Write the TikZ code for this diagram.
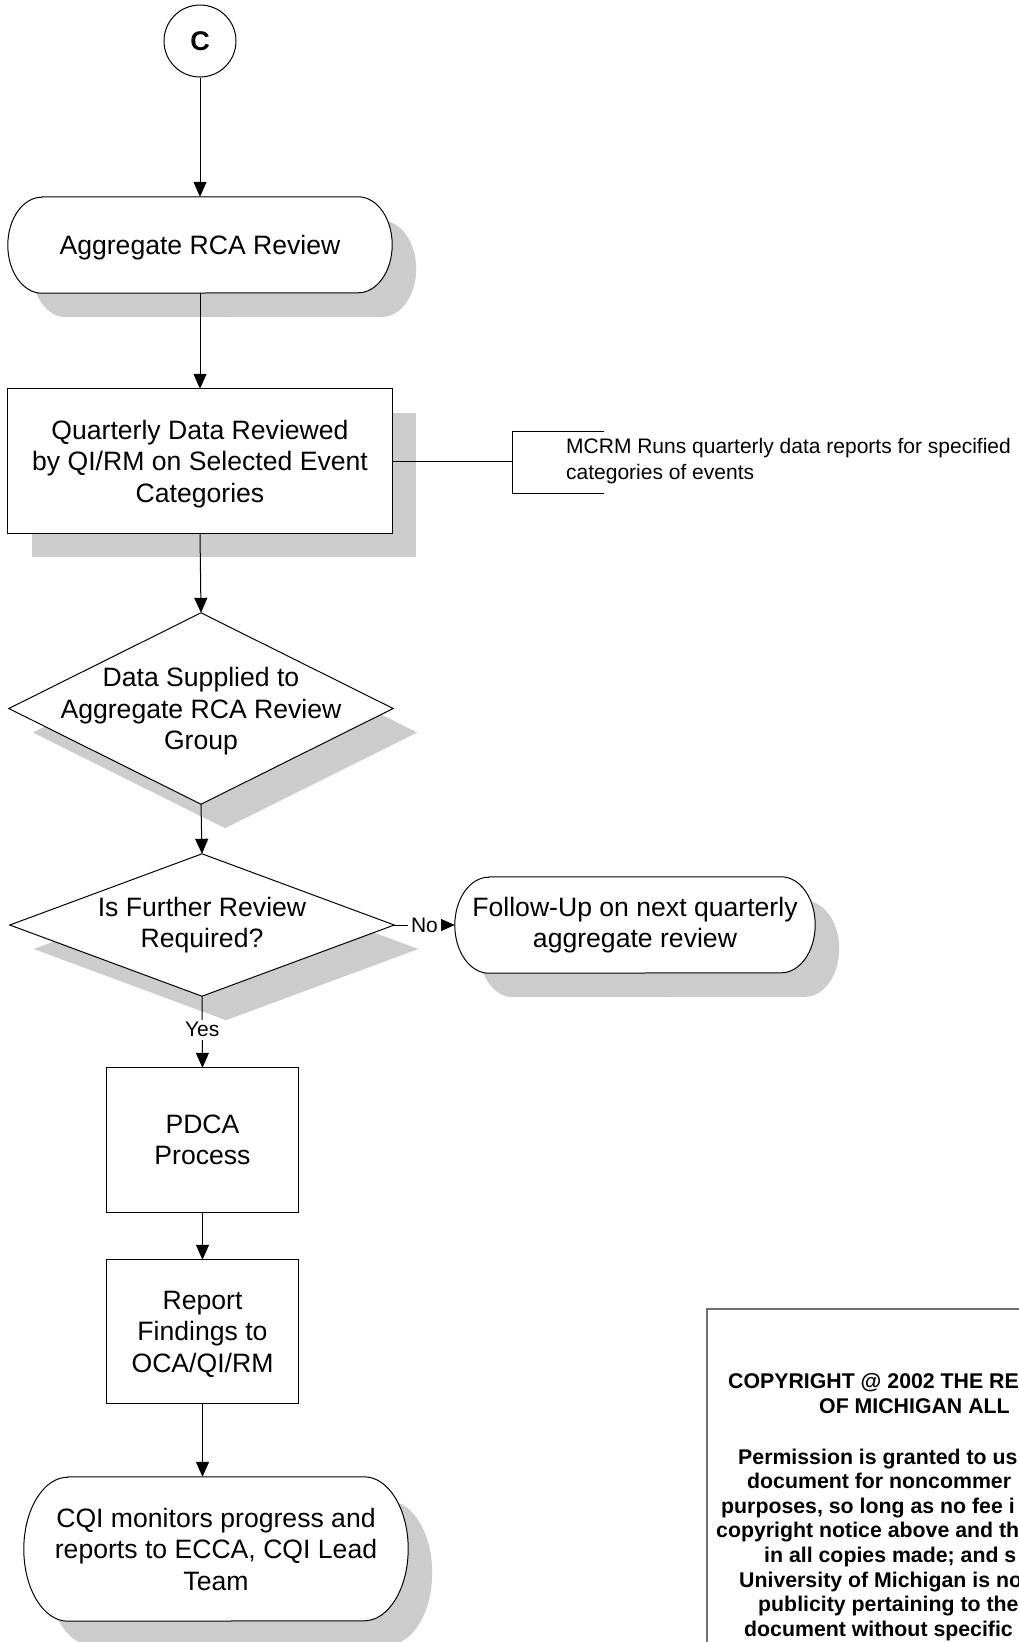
\documentclass[tikz,border=0pt]{standalone}
\usepackage{fontspec}
\setmainfont{Liberation Sans}
\usetikzlibrary{arrows.meta,calc}
\pgfdeclarelayer{shadowlayer}
\pgfdeclarelayer{shapelayer}
\pgfsetlayers{shadowlayer,shapelayer,main}
\definecolor{shadowgray}{RGB}{204,204,204}
\definecolor{bordergray}{RGB}{112,112,112}
\tikzset{
  mainfont/.style={font=\fontsize{26.6}{31.5}\selectfont},
  box/.style={rectangle, inner sep=0pt, align=center, mainfont},
  nodepth/.style={text depth=0pt},
  outline/.style={draw=black, line width=1pt},
  shapefill/.style={fill=white, draw=black, line width=1pt},
  shadowfill/.style={fill=shadowgray, transform canvas={shift={(24pt,-24pt)}}},
  conn/.style={draw=black, line width=1pt, -{Triangle[width=13pt,length=15pt]}},
  lbl/.style={fill=white, inner sep=3pt, font=\fontsize{21}{25}\selectfont},
  cpy/.style={anchor=base west, inner sep=0pt, font=\bfseries\fontsize{21.3}{25}\selectfont},
}
\newcommand\termshape[4]{%
  \path[#1] ([xshift=#3pt]#2.north west) -- ([xshift=-#3pt]#2.north east)
    arc[start angle=90,end angle=-90,x radius=#3pt,y radius=#4pt]
    -- ([xshift=#3pt]#2.south west)
    arc[start angle=270,end angle=90,x radius=#3pt,y radius=#4pt] -- cycle;}
\newcommand\diamshape[2]{\path[#1] (#2.north) -- (#2.east) -- (#2.south) -- (#2.west) -- cycle;}
\newcommand\boxshape[2]{\path[#1] (#2.north west) rectangle (#2.south east);}
\begin{document}
\begin{tikzpicture}[x=1pt,y=-1pt]
\useasboundingbox (0,0) rectangle (1019,1642);

% nodes
\node[circle, draw=black, line width=1pt, fill=white, minimum size=72pt, inner sep=0pt,
      font=\bfseries\fontsize{27}{30}\selectfont] (c) at (200,41) {C};
\node[box, nodepth, minimum width=384pt, minimum height=96pt] (t1) at (200,245) {Aggregate RCA Review};
\node[box, nodepth, minimum width=384pt, minimum height=144pt] (q) at (200,461)
  {Quarterly Data Reviewed\\by QI/RM on Selected Event\\Categories};
\node[box, nodepth, minimum width=384pt, minimum height=191pt] (d1) at (201,708.5)
  {Data Supplied to\\Aggregate RCA Review\\Group};
\node[box, minimum width=384pt, minimum height=142pt] (d2) at (202,925)
  {Is Further Review\\Required?};
\node[box, minimum width=360pt, minimum height=96pt] (t2) at (635,925)
  {Follow-Up on next quarterly\\aggregate review};
\node[box, minimum width=192pt, minimum height=144pt] (p) at (202.5,1140) {PDCA\\Process};
\node[box, nodepth, minimum width=192pt, minimum height=143pt] (r) at (202.5,1331.5)
  {Report\\Findings to\\OCA/QI/RM};
\node[box, minimum width=384pt, minimum height=144pt] (t3) at (216,1549)
  {CQI monitors progress and\\reports to ECCA, CQI Lead\\Team};
\node[anchor=west, align=left, inner sep=0pt, font=\fontsize{21}{26.5}\selectfont] (note) at (566,461)
  {MCRM Runs quarterly data reports for specified\\categories of events};

% shadows
\begin{pgfonlayer}{shadowlayer}
  \fill[white] (0,0) rectangle (1019,1642);
  \termshape{shadowfill}{t1}{34}{48}
  \boxshape{shadowfill}{q}
  \diamshape{shadowfill}{d1}
  \diamshape{shadowfill}{d2}
  \termshape{shadowfill}{t2}{34}{48}
  \termshape{shadowfill}{t3}{44}{72}
\end{pgfonlayer}

% shapes
\begin{pgfonlayer}{shapelayer}
  \termshape{shapefill}{t1}{34}{48}
  \boxshape{shapefill}{q}
  \diamshape{shapefill}{d1}
  \diamshape{shapefill}{d2}
  \termshape{shapefill}{t2}{34}{48}
  \boxshape{shapefill}{p}
  \boxshape{shapefill}{r}
  \termshape{shapefill}{t3}{44}{72}
\end{pgfonlayer}

% connectors
\draw[conn] (c.south) -- (t1.north);
\draw[conn] (t1.south) -- (q.north);
\draw[conn] (q.south) -- (d1.north);
\draw[conn] (d1.south) -- (d2.north);
\draw[conn] (d2.east) -- node[lbl] {No} (t2.west);
\draw[conn] (d2.south) -- node[lbl, pos=0.47] {Yes} (p.north);
\draw[conn] (p.south) -- (r.north);
\draw[conn] (r.south) -- (r.south |- t3.north);

% annotation bracket
\coordinate (bk) at (512,461);
\coordinate (bkt) at (604,431);
\coordinate (bkb) at (604,493);
\draw[outline] (q.east) -- (bk);
\draw[outline] (bkt) -- (bkt -| bk) -- (bkb -| bk) -- (bkb);

% copyright box (runs off the page)
\begin{scope}
  \clip (0,0) rectangle (1019,1642);
  \draw[draw=bordergray, line width=1.5pt] (707,1309) rectangle (1060,1700);
  \node[cpy] (cp1) at (728,1388.6) {COPYRIGHT @ 2002 THE RE};
  \node[cpy] (cp2) at (819,1413.6) {OF MICHIGAN ALL};
  \node[cpy] (cp3) at (738,1464) {Permission is granted to us};
  \node[cpy] (cp4) at (747,1488.6) {document for noncommer};
  \node[cpy] (cp5) at (721,1513.2) {purposes, so long as no fee i};
  \node[cpy] (cp6) at (716,1537.8) {copyright notice above and th};
  \node[cpy] (cp7) at (764,1562.4) {in all copies made; and s};
  \node[cpy] (cp8) at (739,1587) {University of Michigan is no};
  \node[cpy] (cp9) at (758,1611.6) {publicity pertaining to the};
  \node[cpy] (cp10) at (744,1636.2) {document without specific};
\end{scope}
\end{tikzpicture}
\end{document}
